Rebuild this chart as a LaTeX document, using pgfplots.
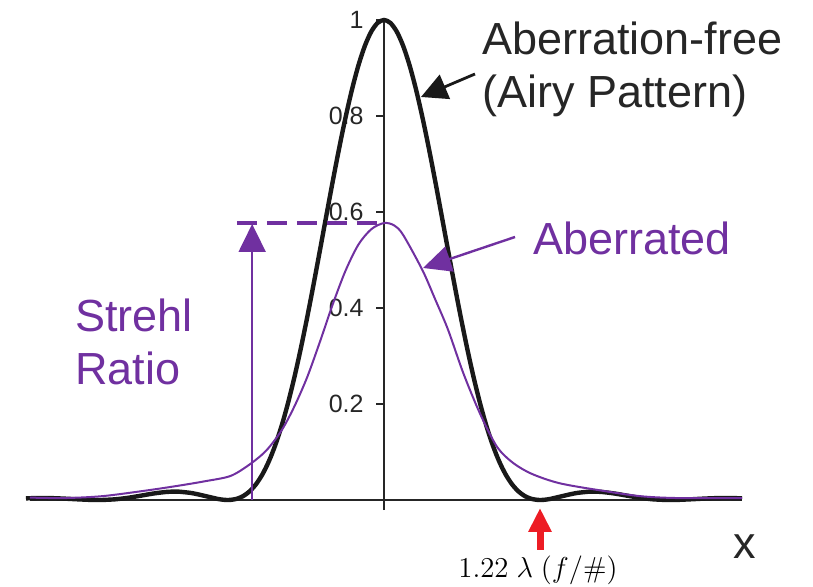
\documentclass[border=0pt]{standalone}
\usepackage{pgfplots}
\pgfplotsset{compat=1.18}
\usepackage[no-math]{fontspec}
\setmainfont{Liberation Sans}
\usetikzlibrary{arrows.meta}
\definecolor{aberr}{HTML}{7030A0}
\definecolor{pointer}{HTML}{ED1C24}

% Airy pattern (2 J1(pi x)/(pi x))^2, x in units of lambda f/#
\pgfplotstableread{
x      I
-2.797 0.00340
-2.7   0.00413
-2.6   0.00390
-2.5   0.00289
-2.4   0.00148
-2.3   0.00030
-2.233 0.00000
-2.2   0.00008
-2.1   0.00145
-2.0   0.00453
-1.9   0.00898
-1.8   0.01354
-1.7   0.01680
-1.635 0.01750
-1.6   0.01730
-1.5   0.01431
-1.4   0.00850
-1.3   0.00231
-1.25  0.00038
-1.22  0.00000
-1.2   0.00018
-1.15  0.00249
-1.1   0.00815
-1.05  0.01799
-1.0   0.03283
-0.95  0.05339
-0.9   0.08027
-0.85  0.11387
-0.8   0.15440
-0.75  0.20181
-0.7   0.25577
-0.65  0.31568
-0.6   0.38064
-0.55  0.44950
-0.5   0.52086
-0.45  0.59311
-0.4   0.66451
-0.35  0.73324
-0.3   0.79745
-0.25  0.85535
-0.2   0.90527
-0.15  0.94575
-0.1   0.97557
-0.05  0.99385
0.0    1.00000
0.05   0.99385
0.1    0.97557
0.15   0.94575
0.2    0.90527
0.25   0.85535
0.3    0.79745
0.35   0.73324
0.4    0.66451
0.45   0.59311
0.5    0.52086
0.55   0.44950
0.6    0.38064
0.65   0.31568
0.7    0.25577
0.75   0.20181
0.8    0.15440
0.85   0.11387
0.9    0.08027
0.95   0.05339
1.0    0.03283
1.05   0.01799
1.1    0.00815
1.15   0.00249
1.2    0.00018
1.22   0.00000
1.25   0.00038
1.3    0.00231
1.4    0.00850
1.5    0.01431
1.6    0.01730
1.635  0.01750
1.7    0.01680
1.8    0.01354
1.9    0.00898
2.0    0.00453
2.1    0.00145
2.2    0.00008
2.233  0.00000
2.3    0.00030
2.4    0.00148
2.5    0.00289
2.6    0.00390
2.7    0.00413
2.797  0.00340
}\airy

% aberrated point spread function
\pgfplotstableread{
x      I
-2.766 0.005
-2.5   0.004
-2.2   0.008
-1.85  0.020
-1.6   0.030
-1.4   0.039
-1.2   0.050
-1.05  0.074
-0.92  0.103
-0.8   0.145
-0.7   0.195
-0.6   0.256
-0.5   0.330
-0.4   0.408
-0.3   0.478
-0.2   0.532
-0.1   0.564
0.0    0.577
0.08   0.572
0.15   0.552
0.3    0.479
0.4    0.418
0.5    0.355
0.62   0.264
0.75   0.180
0.88   0.112
1.0    0.079
1.15   0.055
1.37   0.035
1.69   0.020
2.0    0.008
2.3    0.004
2.797  0.004
}\aberrated

\begin{document}
\begin{tikzpicture}
\useasboundingbox (-192pt,-43.5pt) rectangle (214.5pt,250pt);
\begin{axis}[
  at={(0pt,0pt)}, anchor=origin,
  x=64pt, y=240pt,
  xmin=-2.766, xmax=2.797, ymin=-0.021, ymax=1,
  axis lines=middle,
  axis line style={-, line width=0.8pt, black!85},
  xtick=\empty,
  ytick={0,0.2,0.4,0.6,0.8,1},
  yticklabels={0,0.2,0.4,0.6,0.8,1},
  tick align=outside,
  major tick length=4pt,
  tick style={line width=0.8pt, black!85},
  yticklabel style={font=\fontsize{12.5}{15}\selectfont, text=black!85, anchor=east, inner sep=0pt, xshift=-6pt},
  clip=false,
]
\addplot[black!90, line width=2.2pt, smooth] table[x=x, y=I] {\airy};
\addplot[aberr, line width=1pt, smooth] table[x=x, y=I] {\aberrated};

% Strehl ratio: peak of the aberrated spot
\draw[aberr, line width=1.7pt, dash pattern=on 10pt off 5pt] (axis cs:-1.15,0.577) -- (axis cs:0,0.577);
\draw[aberr, line width=1pt, -{Triangle[width=13.5pt,length=14pt]}] (axis cs:-1.03,0) -- (axis cs:-1.03,0.575);
\end{axis}

\tikzset{lbl/.style={anchor=base west, inner sep=0pt, font=\fontsize{22.5}{27}\selectfont}}
\node[lbl, text=black!85] at (49pt,222.5pt) {Aberration-free};
\node[lbl, text=black!85] at (49pt,196pt) {(Airy Pattern)};
\node[lbl, text=aberr] at (74.5pt,122.5pt) {Aberrated};
\node[lbl, text=aberr] at (-154.5pt,84pt) {Strehl};
\node[lbl, text=aberr] at (-154.5pt,57.5pt) {Ratio};
\node[lbl, text=black!85] at (174.5pt,-29.5pt) {x};
\node[anchor=base west, inner sep=0pt, font=\fontsize{15}{18}\selectfont] at (37pt,-39pt) {$1.22\;\lambda\;(f/\#)$};

\draw[black!90, line width=1.4pt, -{Triangle[width=13pt,length=13pt]}] (45.5pt,213pt) -- (18.5pt,201.5pt);
\draw[aberr, line width=1.2pt, -{Triangle[width=13pt,length=14pt]}] (65.5pt,131.5pt) -- (19.5pt,116pt);
\draw[pointer, line width=3.5pt, -{Triangle[width=11pt,length=12pt]}] (78pt,-25pt) -- (78pt,-4pt);
\end{tikzpicture}
\end{document}
